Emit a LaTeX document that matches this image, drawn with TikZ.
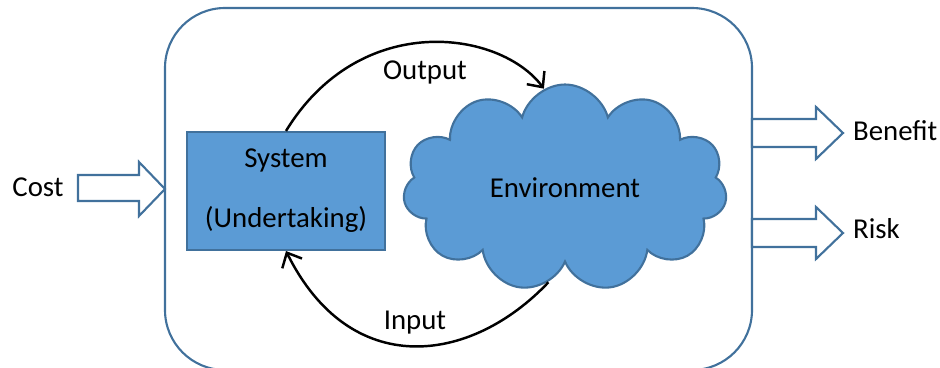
\documentclass[tikz,border=0pt]{standalone}
\usepackage{fontspec}
\setmainfont{Carlito}
\usetikzlibrary{shapes.symbols,arrows.meta}
\definecolor{boxblue}{HTML}{5B9BD5}
\definecolor{lineblue}{HTML}{41719C}
\begin{document}
\begin{tikzpicture}[x=0.02cm, y=-0.02cm, >={Straight Barb[length=2.4mm,width=4.4mm]},
    every node/.style={font=\fontsize{16.4}{20}\selectfont},
    fillbox/.style={draw=lineblue, fill=boxblue, line width=1.2pt},
    flow/.style={->, black, line width=1.4pt},
    blockarrow/.style={draw=lineblue, fill=white, line width=1.2pt}]
  \useasboundingbox (0,0) rectangle (940,368);
  \clip (0,0) rectangle (940,368);
  % Frame
  \draw[lineblue, line width=1.2pt, rounded corners=1.2cm] (165,8) rectangle (752,370);
  % System and environment
  \node[fillbox, minimum width=3.96cm, minimum height=2.36cm, align=center] (sys) at (286,191) {System\\[0.5cm](Undertaking)};
  \node[cloud, cloud puffs=11, cloud ignores aspect, fillbox, minimum width=6.48cm, minimum height=4.14cm] (env) at (565,188) {Environment};
  % Flows between them
  \draw[flow] (sys.north) .. controls (360,10) and (500,30) .. (env.102);
  \draw[flow] (env.-100) .. controls (470,365) and (350,380) .. (sys.south);
  \node (outlbl) at (425,72) {Output};
  \node (inlbl) at (415,323) {Input};
  % Block arrows
  \draw[blockarrow] (78,175) -- (139,175) -- (139,162) -- (165,189) -- (139,216) -- (139,201) -- (78,201) -- cycle;
  \foreach \y in {133,233}
    \draw[blockarrow] (752,\y-14) -- (816,\y-14) -- (816,\y-26) -- (843,\y) -- (816,\y+26) -- (816,\y+14) -- (752,\y+14) -- cycle;
  \node (cost) at (38,187) {Cost};
  \node[anchor=west] (benefit) at (847,131) {Benefit};
  \node[anchor=west] (risk) at (847,229) {Risk};
\end{tikzpicture}
\end{document}
